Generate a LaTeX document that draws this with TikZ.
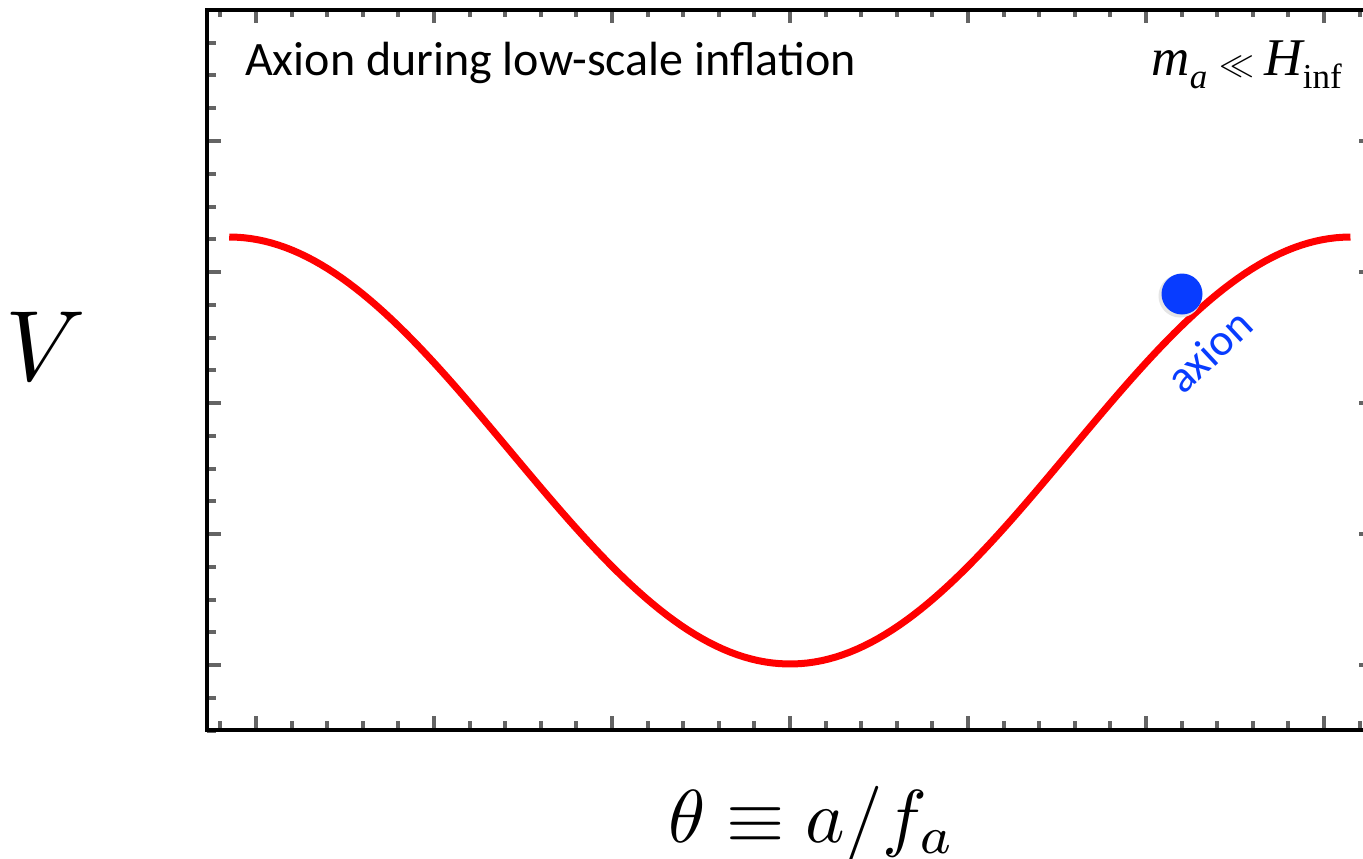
\documentclass[tikz,border=0pt]{standalone}
\usepackage{fontspec}
\newfontfamily\calib{Carlito}
\newfontfamily\tnr{Liberation Serif}
\definecolor{axred}{RGB}{255,0,0}
\definecolor{axblue}{RGB}{8,60,255}
\definecolor{tickgray}{RGB}{100,100,100}
\begin{document}
\begin{tikzpicture}[x=1pt,y=-1pt,
  tick/.style={draw=tickgray,line width=4pt,line cap=butt},
  frameline/.style={draw=black,line width=4.5pt,line cap=rect,line join=miter},
  curve/.style={draw=axred,line width=7pt,line cap=butt},
  ball/.style={circle,fill=axblue,minimum size=41pt,inner sep=0pt}]
\useasboundingbox (0,0) rectangle (1363,859);
\fill[white] (0,0) rectangle (1363,859);
% ticks on left and right axes
\foreach \k in {1,...,22}{
  \pgfmathsetmacro{\yy}{10+32.75*\k}
  \pgfmathtruncatemacro{\mm}{mod(\k,4)}
  \ifnum\mm=0
    \draw[tick] (207,\yy) -- (221,\yy);
    \draw[tick] (1359,\yy) -- (1366,\yy);
  \else
    \draw[tick] (207,\yy) -- (216,\yy);
  \fi
}
% ticks on bottom and top axes
\foreach \k in {0,...,32}{
  \pgfmathsetmacro{\xx}{220.4+35.6*\k}
  \pgfmathtruncatemacro{\mm}{mod(\k,5)}
  \ifnum\mm=1
    \draw[tick] (\xx,730) -- (\xx,716);
    \draw[tick] (\xx,10) -- (\xx,23);
  \else
    \draw[tick] (\xx,730) -- (\xx,721);
    \draw[tick] (\xx,10) -- (\xx,17);
  \fi
}
% frame
\draw[frameline] (1370,10) -- (207,10) -- (207,730) -- (1370,730);
% potential curve
\draw[curve] plot[domain=-3.14159:3.14159,samples=160,variable=\t]
  ({790+178.5*\t},{664-213.5*(1-cos(\t r))});
% axion ball with soft shadow
\fill[black!10] (1180,296) circle (21.5pt);
\node[ball] (ball) at (1182,294) {};
\node[text=axblue,font=\calib\fontsize{45}{45}\selectfont,rotate=43,anchor=center] (axlab) at (1209,351) {axion};
% texts
\node[anchor=base west,inner sep=0pt,font=\calib\fontsize{48}{48}\selectfont] (title) at (245,75) {Axion during low-scale inflation};
\node[anchor=base east,inner sep=0pt,font=\tnr\fontsize{53}{53}\selectfont] (cond) at (1342,75)
  {\itshape m\raisebox{-0.25em}{\fontsize{35}{35}\selectfont a}\upshape\hspace{0.22em}{\fontsize{10}{10}\selectfont\scalebox{3.5}{$\ll$}}\hspace{0.2em}\itshape H\upshape\raisebox{-0.25em}{\fontsize{35}{35}\selectfont inf}};
\node[anchor=base,inner sep=0pt] (vlab) at (46,380) {\scalebox{10}{$V$}};
\node[anchor=base,inner sep=0pt] (thlab) at (812,842) {\scalebox{7.5}{$\theta\equiv a/f_a$}};
\end{tikzpicture}
\end{document}
